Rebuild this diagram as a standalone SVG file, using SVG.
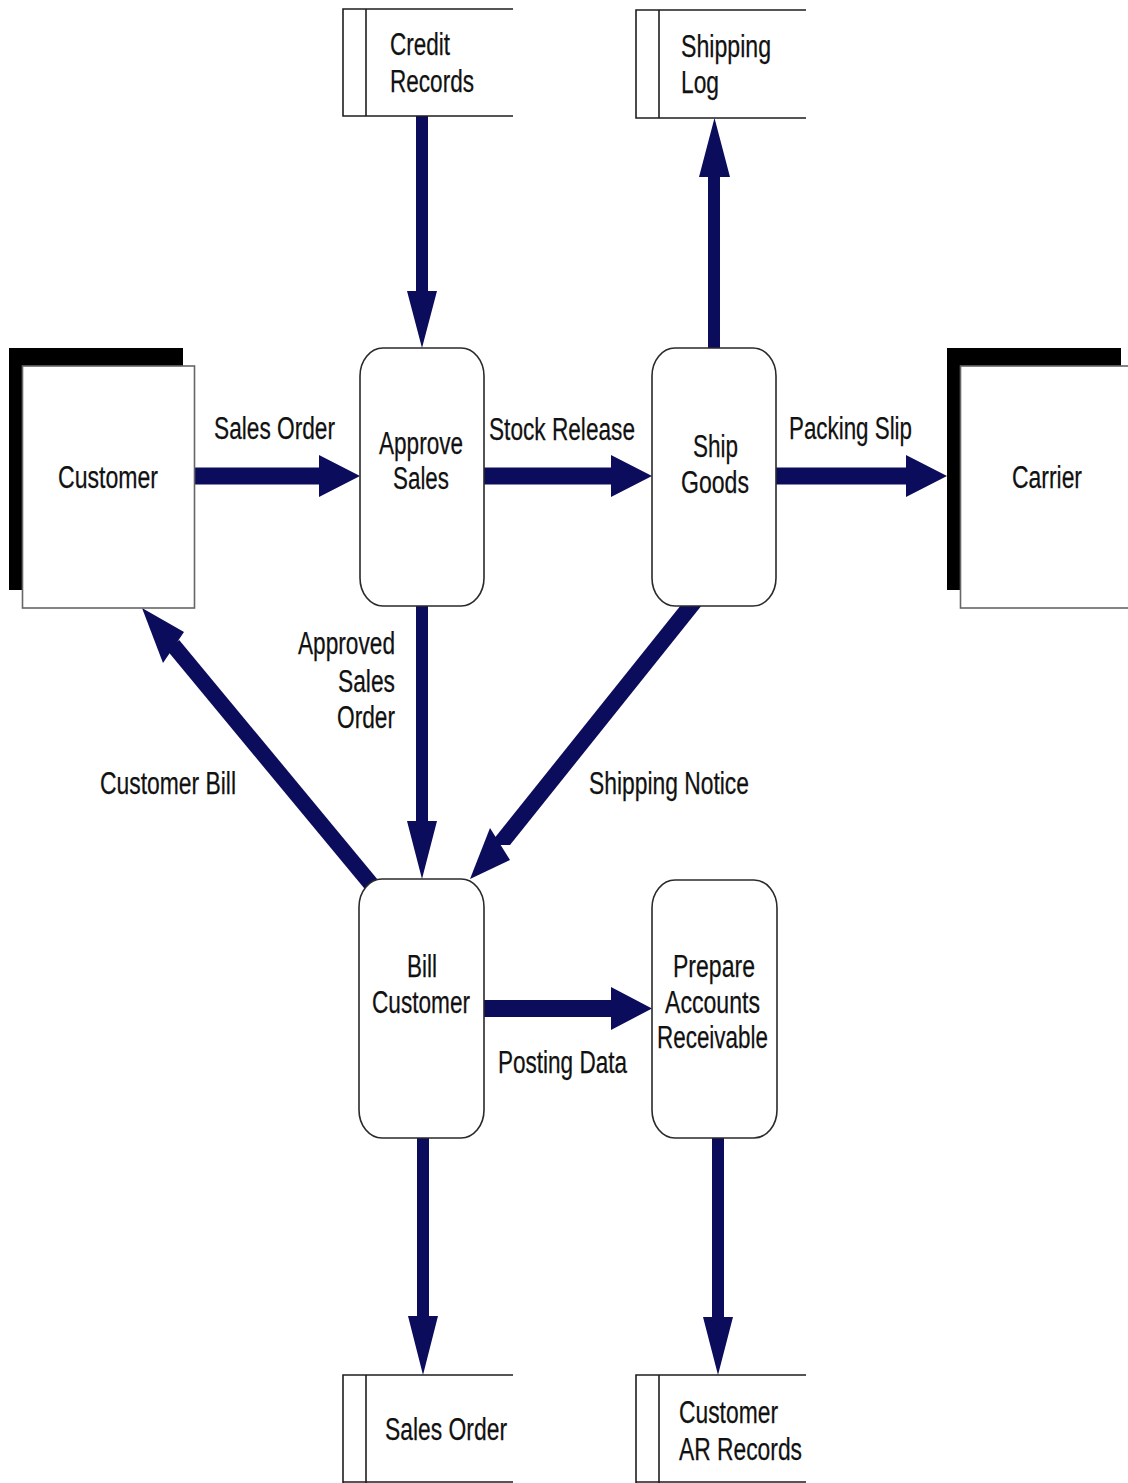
<svg xmlns="http://www.w3.org/2000/svg" width="1128" height="1483" viewBox="0 0 1128 1483">
  <style>
    .txt { font-family: "Liberation Sans", Arial, Helvetica, sans-serif; font-size: 31px; fill: #111111; stroke: #111111; stroke-width: 0.25; }
    .proc { fill: #ffffff; stroke: #2a2a2a; stroke-width: 1.6; }
    .store { fill: none; stroke: #1e1e1e; stroke-width: 1.6; }
    .shadow { fill: #000000; }
    .ent { fill: #ffffff; stroke: #666666; stroke-width: 1.6; }
    .flow { fill: #0c0c5c; stroke: none; }
    .flowline { stroke: #0c0c5c; stroke-width: 16; fill: none; }
  </style>

  <rect x="0" y="0" width="1128" height="1483" fill="#ffffff"/>

  <!-- data flows -->
  <g id="connectors">
    <!-- Credit Records -> Approve Sales -->
    <polygon class="flow" points="416,116 428,116 428,291 437,291 422,348 407,291 416,291"/>
    <!-- Ship Goods -> Shipping Log -->
    <polygon class="flow" points="708,348 720,348 720,177 730,177 714.5,118 699,177 708,177"/>
    <!-- Customer -> Approve Sales (Sales Order) -->
    <polygon class="flow" points="195,467.5 319,467.5 319,455 360,476 319,497 319,484.5 195,484.5"/>
    <!-- Approve Sales -> Ship Goods (Stock Release) -->
    <polygon class="flow" points="484,467.5 611,467.5 611,455 652,476 611,497 611,484.5 484,484.5"/>
    <!-- Ship Goods -> Carrier (Packing Slip) -->
    <polygon class="flow" points="776,467.5 906,467.5 906,455 947,476 906,497 906,484.5 776,484.5"/>
    <!-- Approve Sales -> Bill Customer (Approved Sales Order) -->
    <polygon class="flow" points="416,606 428,606 428,821 437,821 422,879 407,821 416,821"/>
    <!-- Ship Goods -> Bill Customer (Shipping Notice) -->
    <polygon class="flow" points="681,605 702,605 510,845 489,845"/>
    <polygon class="flow" points="470,879 490,828 510,860"/>
    <!-- Bill Customer -> Customer (Customer Bill) -->
    <line class="flowline" x1="371" y1="884" x2="173" y2="645"/>
    <polygon class="flow" points="142,608 184,632 163,663"/>
    <!-- Bill Customer -> Prepare Accounts Receivable (Posting Data) -->
    <polygon class="flow" points="483,1000 611,1000 611,987 652,1008.5 611,1030 611,1017 483,1017"/>
    <!-- Bill Customer -> Sales Order store -->
    <polygon class="flow" points="417,1138 429,1138 429,1316 438,1316 423,1375 408,1316 417,1316"/>
    <!-- Prepare Accounts Receivable -> Customer AR Records -->
    <polygon class="flow" points="712,1138 724,1138 724,1317 733,1317 718,1375 703,1317 712,1317"/>

    <!-- flow labels -->
    <text class="txt" x="214" y="439" textLength="121" lengthAdjust="spacingAndGlyphs">Sales Order</text>
    <text class="txt" x="489" y="440" textLength="146" lengthAdjust="spacingAndGlyphs">Stock Release</text>
    <text class="txt" x="789" y="439" textLength="123" lengthAdjust="spacingAndGlyphs">Packing Slip</text>
    <text class="txt" x="298" y="654" textLength="97" lengthAdjust="spacingAndGlyphs">Approved</text>
    <text class="txt" x="338" y="692" textLength="57" lengthAdjust="spacingAndGlyphs">Sales</text>
    <text class="txt" x="337" y="728" textLength="58" lengthAdjust="spacingAndGlyphs">Order</text>
    <text class="txt" x="100" y="794" textLength="136" lengthAdjust="spacingAndGlyphs">Customer Bill</text>
    <text class="txt" x="589" y="794" textLength="160" lengthAdjust="spacingAndGlyphs">Shipping Notice</text>
    <text class="txt" x="498" y="1073" textLength="129" lengthAdjust="spacingAndGlyphs">Posting Data</text>
  </g>

  <!-- data stores -->
  <g id="store-credit-records">
    <path class="store" d="M513,9 H343 V116 H513 M366,9 V116"/>
    <text class="txt" x="390" y="55" textLength="60" lengthAdjust="spacingAndGlyphs">Credit</text>
    <text class="txt" x="390" y="92" textLength="84" lengthAdjust="spacingAndGlyphs">Records</text>
  </g>
  <g id="store-shipping-log">
    <path class="store" d="M806,10 H636 V118 H806 M659,10 V118"/>
    <text class="txt" x="681" y="57" textLength="90" lengthAdjust="spacingAndGlyphs">Shipping</text>
    <text class="txt" x="681" y="93" textLength="38" lengthAdjust="spacingAndGlyphs">Log</text>
  </g>
  <g id="store-sales-order">
    <path class="store" d="M513,1375 H343 V1483 M343,1482 H513 M366,1375 V1483"/>
    <text class="txt" x="385" y="1440" textLength="122" lengthAdjust="spacingAndGlyphs">Sales Order</text>
  </g>
  <g id="store-customer-ar">
    <path class="store" d="M806,1375 H636 V1483 M636,1482 H806 M659,1375 V1483"/>
    <text class="txt" x="679" y="1423" textLength="99" lengthAdjust="spacingAndGlyphs">Customer</text>
    <text class="txt" x="679" y="1460" textLength="123" lengthAdjust="spacingAndGlyphs">AR Records</text>
  </g>

  <!-- external entities -->
  <g id="entity-customer">
    <rect class="shadow" x="9" y="348" width="174" height="242"/>
    <rect class="ent" x="22.5" y="366" width="172" height="242"/>
    <text class="txt" x="58" y="488" textLength="100" lengthAdjust="spacingAndGlyphs">Customer</text>
  </g>
  <g id="entity-carrier">
    <rect class="shadow" x="947" y="348" width="174" height="242"/>
    <rect class="ent" x="960.5" y="366" width="180" height="242"/>
    <text class="txt" x="1012" y="488" textLength="70" lengthAdjust="spacingAndGlyphs">Carrier</text>
  </g>

  <!-- processes -->
  <g id="proc-approve-sales">
    <rect class="proc" x="360" y="348" width="124" height="258" rx="23" ry="28"/>
    <text class="txt" x="379" y="454" textLength="84" lengthAdjust="spacingAndGlyphs">Approve</text>
    <text class="txt" x="393" y="489" textLength="56" lengthAdjust="spacingAndGlyphs">Sales</text>
  </g>
  <g id="proc-ship-goods">
    <rect class="proc" x="652" y="348" width="124" height="258" rx="23" ry="28"/>
    <text class="txt" x="693" y="457" textLength="45" lengthAdjust="spacingAndGlyphs">Ship</text>
    <text class="txt" x="681" y="493" textLength="68" lengthAdjust="spacingAndGlyphs">Goods</text>
  </g>
  <g id="proc-bill-customer">
    <rect class="proc" x="359" y="879" width="125" height="259" rx="23" ry="28"/>
    <text class="txt" x="407" y="977" textLength="30" lengthAdjust="spacingAndGlyphs">Bill</text>
    <text class="txt" x="372" y="1013" textLength="98" lengthAdjust="spacingAndGlyphs">Customer</text>
  </g>
  <g id="proc-prepare-ar">
    <rect class="proc" x="652" y="880" width="125" height="258" rx="23" ry="28"/>
    <text class="txt" x="673" y="977" textLength="82" lengthAdjust="spacingAndGlyphs">Prepare</text>
    <text class="txt" x="665" y="1013" textLength="95" lengthAdjust="spacingAndGlyphs">Accounts</text>
    <text class="txt" x="657" y="1048" textLength="111" lengthAdjust="spacingAndGlyphs">Receivable</text>
  </g>
</svg>
